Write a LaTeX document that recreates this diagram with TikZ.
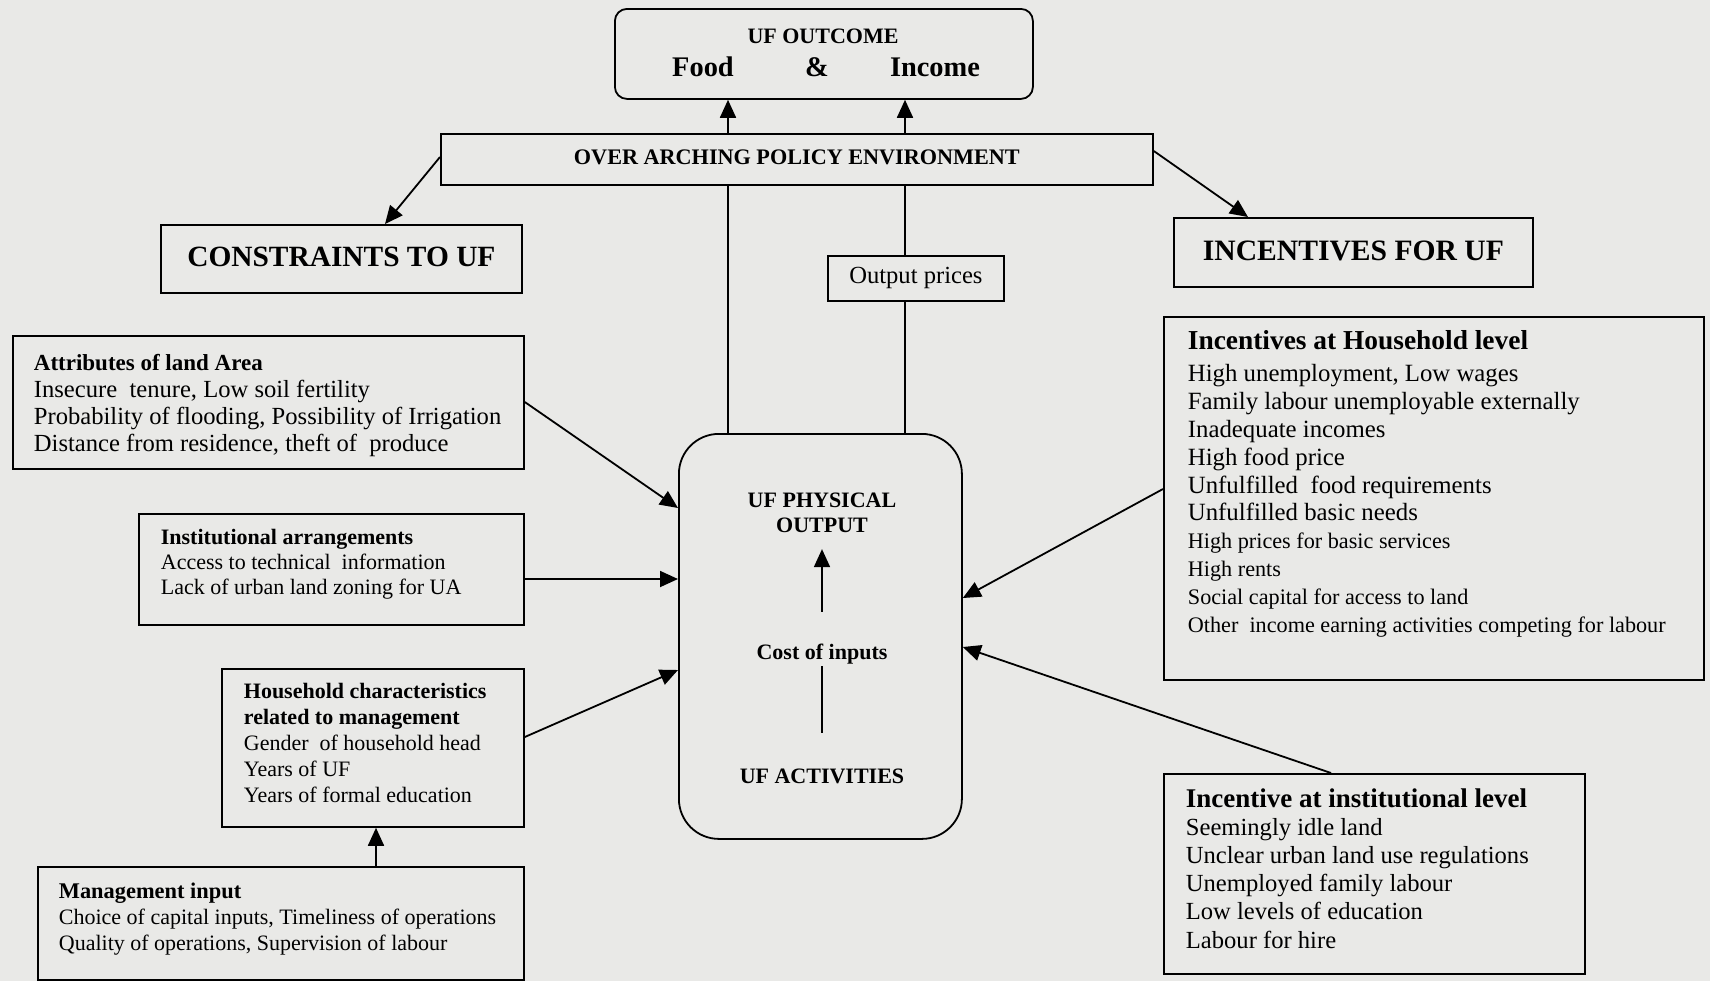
\documentclass[tikz,border=0pt]{standalone}
\usepackage{fontspec}
\setmainfont{Liberation Serif}
\usetikzlibrary{arrows.meta}
\definecolor{bg}{RGB}{233,233,231}
\newcommand{\fsz}[2]{\fontsize{#1}{#2}\selectfont}
\begin{document}
\begin{tikzpicture}[x=0.5pt,y=-0.5pt,
  line width=0.9pt,
  box/.style={draw, line width=0.9pt, inner sep=0pt, anchor=north west},
  lst/.style={anchor=base west, align=left, inner sep=0pt},
  lbl/.style={inner sep=0pt},
  arr/.style={-{Triangle[length=9pt,width=8pt]}},
]
\fill[bg] (0,0) rectangle (1710,981);
\useasboundingbox (0,0) rectangle (1710,981);

% top outcome
\node[box, rounded corners=6pt, minimum width=209pt, minimum height=45pt] (outcome) at (614,8) {};
\node[lbl, anchor=base, font=\bfseries\fsz{11}{13}] (outt) at (823,43) {UF OUTCOME};
\node[lbl, anchor=base, font=\bfseries\fsz{14.2}{16}] (food) at (703,76) {Food};
\node[lbl, anchor=base, font=\bfseries\fsz{14.2}{16}] (amp) at (817,76) {\&};
\node[lbl, anchor=base, font=\bfseries\fsz{14.2}{16}] (income) at (935,76) {Income};

% policy
\node[box, minimum width=356pt, minimum height=25.5pt, font=\bfseries\fsz{11.1}{13}] (policy) at (440,133) {\raisebox{2pt}{OVER ARCHING POLICY ENVIRONMENT}};

% constraints / incentives
\node[box, minimum width=180.5pt, minimum height=34pt, font=\bfseries\fsz{14.7}{16}] (constraints) at (160,224) {\raisebox{2pt}{CONSTRAINTS TO UF}};
\node[box, minimum width=179.5pt, minimum height=34.5pt, font=\bfseries\fsz{14.8}{16}] (incentives) at (1173,217) {\raisebox{2pt}{INCENTIVES FOR UF}};

% output prices
\node[box, minimum width=88pt, minimum height=22.5pt, font=\fsz{12.3}{14}] (prices) at (827,255) {Output prices};

% big central box
\node[box, rounded corners=20pt, minimum width=141.5pt, minimum height=202.5pt] (big) at (678,433) {};
\node[lbl, anchor=base, align=center, font=\bfseries\fsz{11}{12.5}] (phys) at (822,532) {UF PHYSICAL\\OUTPUT};
\node[lbl, anchor=base, font=\bfseries\fsz{11}{13}] (cost) at (822,659) {Cost of inputs};
\node[lbl, anchor=base, font=\bfseries\fsz{11}{13}] (act) at (822,783) {UF ACTIVITIES};

% left boxes
\node[box, minimum width=255.5pt, minimum height=66.5pt] (attr) at (12,335) {};
\node[lst, font=\fsz{12.3}{13.5}] (attrt) at (33,451) {\textbf{\fsz{11.5}{13.5}Attributes of land Area}\\Insecure~ tenure, Low soil fertility\\Probability of flooding, Possibility of Irrigation\\Distance from residence, theft of~ produce};

\node[box, minimum width=192.5pt, minimum height=55.5pt] (inst) at (138,513) {};
\node[lst, font=\fsz{11}{12.5}] (instt) at (160,594) {\textbf{Institutional arrangements}\\Access to technical~ information\\Lack of urban land zoning for UA};

\node[box, minimum width=151pt, minimum height=79pt] (hc) at (221,668) {};
\node[lst, font=\fsz{11}{13}] (hct) at (243,802) {\textbf{Household characteristics}\\\textbf{related to management}\\Gender~ of household head\\Years of UF\\Years of formal education};

\node[box, minimum width=243pt, minimum height=56.5pt] (mgmt) at (37,866) {};
\node[lst, font=\fsz{11}{13}] (mgmtt) at (58,950) {\textbf{\fsz{11.2}{13}Management input}\\Choice of capital inputs, Timeliness of operations\\Quality of operations, Supervision of labour};

% right boxes
\node[box, minimum width=270pt, minimum height=181.5pt] (hh) at (1163,316) {};
\node[lst, font=\fsz{12.4}{13.9}] (hht) at (1187,632) {\textbf{\fsz{13.7}{13.9}Incentives at Household level}\\[2.5pt]High unemployment, Low wages\\Family labour unemployable externally\\Inadequate incomes\\High food price\\Unfulfilled~ food requirements\\Unfulfilled basic needs\\{\fsz{11.1}{13.9}High prices for basic services}\\{\fsz{11.1}{13.9}High rents}\\{\fsz{11.1}{13.9}Social capital for access to land}\\{\fsz{11.1}{13.9}Other~ income earning activities competing for labour}};

\node[box, minimum width=210.5pt, minimum height=100pt] (instl) at (1163,773) {};
\node[lst, font=\fsz{12.3}{14.1}] (instlt) at (1185,948) {\textbf{\fsz{13.5}{14.1}Incentive at institutional level}\\Seemingly idle land\\Unclear urban land use regulations\\Unemployed family labour\\Low levels of education\\Labour for hire};

% connectors
\draw[arr] (policy.north -| 728,0) -- (outcome.south -| 728,0);
\draw[arr] (policy.north -| 905,0) -- (outcome.south -| 905,0);
\draw (policy.south -| 728,0) -- (big.north -| 728,0);
\draw (policy.south -| 905,0) -- (prices.north -| 905,0);
\draw (prices.south -| 905,0) -- (big.north -| 905,0);
\draw[arr] (policy.west |- 0,157) -- (constraints.north -| 385,0);
\draw[arr] (policy.east |- 0,151) -- (incentives.north -| 1248,0);
\draw[arr] (attr.east |- 0,402) -- (big.west |- 0,508);
\draw[arr] (inst.east |- 0,579) -- (big.west |- 0,579);
\draw[arr] (hc.east |- 0,737) -- (big.west |- 0,670);
\draw[arr] (mgmt.north -| 376,0) -- (hc.south -| 376,0);
\draw[arr] (hh.west |- 0,489) -- (big.east |- 0,598);
\draw[arr] (instl.north -| 1331,0) -- (big.east |- 0,647);
\draw[arr, shorten <=15.5pt, shorten >=8pt] (cost.north) -- (phys.south);
\draw[shorten <=17.5pt, shorten >=0.5pt] (act.north) -- (cost.south);
\end{tikzpicture}
\end{document}
